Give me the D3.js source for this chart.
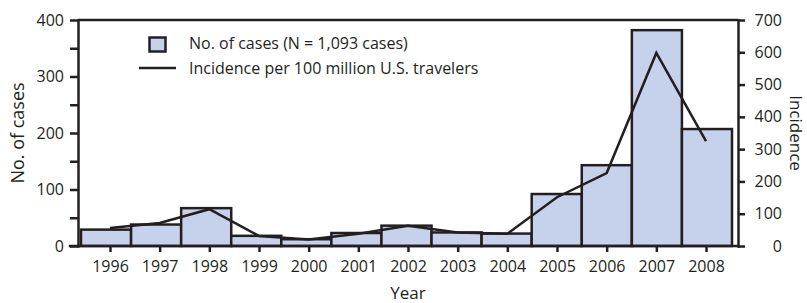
<!DOCTYPE html>
<html>
<head>
<meta charset="utf-8">
<script src="https://cdn.jsdelivr.net/npm/d3@7"></script>
<style>
  body { margin: 0; background: #fff; }
  svg text { font-family: "Open Sans", "Noto Sans", sans-serif; fill: #231f20; }
  .axis path, .axis line { stroke: #231f20; stroke-width: 2.5; }
</style>
</head>
<body>
<div class="chart"></div>
<script>
// DATA //
var years = ['1996', '1997', '1998', '1999', '2000', '2001', '2002', '2003', '2004', '2005', '2006', '2007', '2008'];
var cases = [29, 38, 67, 18, 12, 23, 36, 24, 22, 92, 143, 382, 207];
var incidence = [56, 71, 114, 31, 20, 38, 63, 42, 38, 151, 226, 598, 325];
var caseTicks = [0, 50, 100, 150, 200, 250, 300, 350, 400];
var incidenceTicks = [0, 100, 200, 300, 400, 500, 600, 700];

var width = 807, height = 303,
    margin = { top: 20, right: 69, bottom: 57, left: 78 };

var ink = '#231f20', barFill = '#c6d2eb';

var svg = d3.select('.chart').append('svg')
    .attr('width', width)
    .attr('height', height);

var x0 = margin.left, x1 = width - margin.right,
    y0 = height - margin.bottom, y1 = margin.top;

var xBand = d3.scaleBand().domain(years).range([x0 + 3, x1 - 6]).padding(0);
var xPoint = d3.scalePoint().domain(years).range([110, 706]);
var yLeft = d3.scaleLinear().domain([0, 400]).range([y0, y1]);
var yRight = d3.scaleLinear().domain([0, 700]).range([y0, y1]);

// bars
svg.append('g').selectAll('rect')
    .data(cases)
    .enter().append('rect')
    .attr('x', function(d, i) { return xBand(years[i]); })
    .attr('y', function(d) { return yLeft(d); })
    .attr('width', xBand.bandwidth())
    .attr('height', function(d) { return yLeft(0) - yLeft(d); })
    .attr('fill', barFill)
    .attr('stroke', ink)
    .attr('stroke-width', 2.5);

// incidence line
var line = d3.line()
    .x(function(d, i) { return xPoint(years[i]); })
    .y(function(d) { return yRight(d); });

svg.append('path')
    .datum(incidence)
    .attr('d', line)
    .attr('fill', 'none')
    .attr('stroke', ink)
    .attr('stroke-width', 2.5)
    .attr('stroke-linejoin', 'miter');

// top frame
svg.append('line')
    .attr('x1', x0).attr('x2', x1)
    .attr('y1', y1).attr('y2', y1)
    .attr('stroke', ink).attr('stroke-width', 2.5);

// left axis
var leftAxis = svg.append('g')
    .attr('class', 'axis y')
    .attr('transform', 'translate(' + x0 + ',0)')
    .call(d3.axisLeft(yLeft)
        .tickValues(caseTicks)
        .tickSize(8)
        .tickSizeOuter(0)
        .tickPadding(6)
        .tickFormat(function(d) { return d % 100 === 0 ? d : ''; }));

// right axis
var rightAxis = svg.append('g')
    .attr('class', 'axis y2')
    .attr('transform', 'translate(' + x1 + ',0)')
    .call(d3.axisRight(yRight)
        .tickValues(incidenceTicks)
        .tickSize(7)
        .tickSizeOuter(0)
        .tickPadding(6));
rightAxis.selectAll('text')
    .attr('text-anchor', 'end')
    .attr('x', 44);

// bottom axis
var bottomAxis = svg.append('g')
    .attr('class', 'axis x')
    .attr('transform', 'translate(0,' + y0 + ')')
    .call(d3.axisBottom(xPoint)
        .tickSize(6)
        .tickSizeOuter(0)
        .tickPadding(9));
bottomAxis.select('.domain').attr('d', 'M' + (x0 - 8) + ',0H' + x1);

svg.selectAll('.axis text')
    .style('font-size', '16px')
    .attr('fill', ink);
svg.selectAll('.axis .domain').attr('stroke-linecap', 'square');

// axis titles
svg.append('text')
    .attr('transform', 'translate(24,' + ((y0 + y1) / 2) + ') rotate(-90)')
    .attr('text-anchor', 'middle')
    .style('font-size', '18px')
    .text('No. of cases');

svg.append('text')
    .attr('transform', 'translate(790,' + ((y0 + y1) / 2) + ') rotate(90)')
    .attr('text-anchor', 'middle')
    .style('font-size', '17px')
    .text('Incidence');

svg.append('text')
    .attr('x', 408)
    .attr('y', 299)
    .attr('text-anchor', 'middle')
    .style('font-size', '17px')
    .text('Year');

// legend
var legend = svg.append('g').attr('class', 'legend');
legend.append('rect')
    .attr('x', 149.5).attr('y', 37.5)
    .attr('width', 16).attr('height', 14)
    .attr('fill', barFill)
    .attr('stroke', ink)
    .attr('stroke-width', 2.5);
legend.append('text')
    .attr('x', 189).attr('y', 49)
    .style('font-size', '16px')
    .text('No. of cases (N = 1,093 cases)');
legend.append('line')
    .attr('x1', 139).attr('x2', 176)
    .attr('y1', 68).attr('y2', 68)
    .attr('stroke', ink).attr('stroke-width', 2.5);
legend.append('text')
    .attr('x', 189).attr('y', 74)
    .style('font-size', '16px')
    .text('Incidence per 100 million U.S. travelers');
</script>
</body>
</html>
